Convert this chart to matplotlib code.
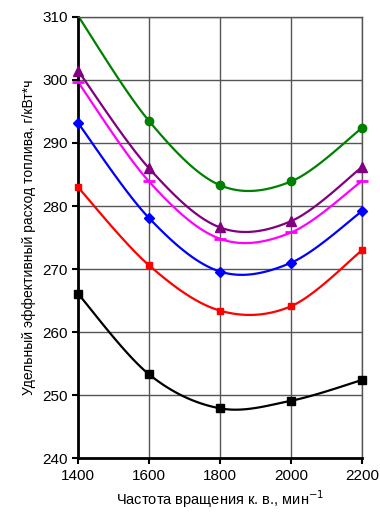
import numpy as np
import matplotlib.pyplot as plt

plt.rcParams['font.family'] = ['Liberation Sans', 'DejaVu Sans']

rpm = [1400, 1600, 1800, 2000, 2200]
green = [310.2, 293.5, 283.3, 283.9, 292.4]
purple = [301.5, 286.0, 276.6, 277.6, 286.2]
magenta = [299.7, 283.9, 274.8, 275.8, 284.0]
blue = [293.2, 278.1, 269.6, 271.0, 279.2]
red = [283.0, 270.6, 263.4, 264.1, 273.0]
black = [266.1, 253.3, 247.9, 249.1, 252.4]


def smooth(x, y, n=30):
    # Excel-like smoothed line (Catmull-Rom as cubic Bezier)
    p = np.column_stack([x, y]).astype(float)
    ext = np.vstack([p[0], p, p[-1]])
    t = np.linspace(0, 1, n)[:, None]
    out = []
    for i in range(len(p) - 1):
        p0, p1, p2, p3 = ext[i], ext[i + 1], ext[i + 2], ext[i + 3]
        c1 = p1 + (p2 - p0) / 6
        c2 = p2 - (p3 - p1) / 6
        seg = ((1 - t) ** 3) * p1 + 3 * ((1 - t) ** 2) * t * c1 + 3 * (1 - t) * t ** 2 * c2 + t ** 3 * p2
        out.append(seg if i == 0 else seg[1:])
    seg = np.vstack(out)
    return seg[:, 0], seg[:, 1]


fig = plt.figure(figsize=(3.8, 5.13), dpi=100)
ax = fig.add_axes([0.205, 0.107, 0.748, 0.860])

series = [
    (green, '#008000', 'o', 6, [1, 2, 3, 4]),
    (purple, '#800080', '^', 7, None),
    (magenta, '#ff00ff', '_', 9, None),
    (blue, '#0000ff', 'D', 5, None),
    (red, '#ff0000', 's', 5, None),
    (black, '#000000', 's', 6, None),
]

for vals, col, mk, ms, every in series:
    sx, sy = smooth(rpm, vals)
    ax.plot(sx, sy, color=col, lw=1.6)
    pts = rpm if every is None else [rpm[i] for i in every]
    pv = vals if every is None else [vals[i] for i in every]
    ax.plot(pts, pv, ls='none', marker=mk, ms=ms, color=col,
            mew=2 if mk == '_' else 1, clip_on=False, zorder=5)

ax.set_xlim(1400, 2200)
ax.set_ylim(240, 310)
ax.set_xticks(rpm)
ax.set_yticks(range(240, 311, 10))
ax.grid(True, color='#555555', lw=1.0)
ax.set_axisbelow(True)
for s in ['top', 'right']:
    ax.spines[s].set_color('#555555')
    ax.spines[s].set_linewidth(1.0)
for s in ['left', 'bottom']:
    ax.spines[s].set_linewidth(2.0)
ax.tick_params(labelsize=11, length=4, width=1.5)

ax.set_xlabel('Частота вращения к. в., мин$^{-1}$', fontsize=10.5)
ax.set_ylabel('Удельный эффективный расход топлива, г/кВт*ч', fontsize=10)

fig.savefig('out.png', dpi=100)
